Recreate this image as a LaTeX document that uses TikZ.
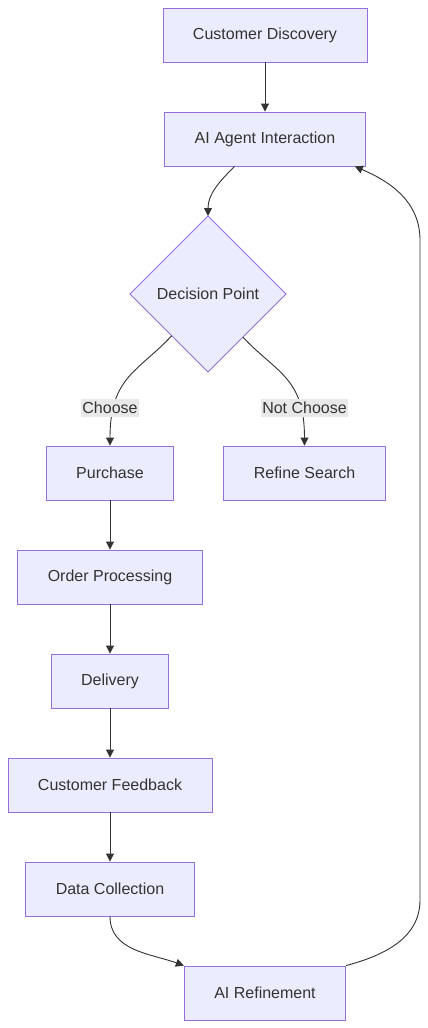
\documentclass[tikz,border=0pt]{standalone}
\usepackage{fontspec}
\setmainfont{Liberation Sans}
\usetikzlibrary{shapes.geometric,arrows.meta}
\definecolor{boxfill}{HTML}{ECECFF}
\definecolor{boxline}{HTML}{9370DB}
\definecolor{ink}{HTML}{333333}
\definecolor{labelgray}{HTML}{E8E8E8}
\tikzset{
  procbox/.style={draw=boxline, fill=boxfill, text=ink, line width=0.9pt,
    minimum height=54pt, inner xsep=30pt, font=\fontsize{16}{19}\selectfont},
  decisionbox/.style={diamond, draw=boxline, fill=boxfill, text=ink, line width=0.9pt,
    minimum width=156pt, minimum height=156pt, aspect=1, inner sep=0pt, outer sep=0pt,
    font=\fontsize{16}{19}\selectfont},
  edgelabel/.style={fill=labelgray, text=ink, inner xsep=1pt, inner ysep=3pt,
    font=\fontsize{16}{19}\selectfont},
  flow/.style={draw=ink, line width=0.9pt, -{Triangle[length=8pt,width=8pt]}}
}

\begin{document}
\begin{tikzpicture}[x=1pt,y=1pt]
  \useasboundingbox (0,0) rectangle (428,-1028);

  \node[procbox] (discovery) at (265,-35) {Customer Discovery};
  \node[procbox] (agent) at (265,-139) {AI Agent Interaction};
  \node[decisionbox] (decision) at (208,-294) {Decision Point};
  \node[procbox] (purchase) at (110,-473) {Purchase};
  \node[procbox] (refine) at (304.5,-473) {Refine Search};
  \node[procbox] (order) at (110,-577) {Order Processing};
  \node[procbox] (delivery) at (110,-681) {Delivery};
  \node[procbox] (feedback) at (110,-785) {Customer Feedback};
  \node[procbox] (collect) at (110,-889) {Data Collection};
  \node[procbox] (refinement) at (265,-993) {AI Refinement};

  \coordinate (loopbottom) at (420,-900);
  \coordinate (looptop) at (420,-240);

  \draw[flow] (discovery) -- (agent);
  \draw[flow] (agent.222) to[out=225,in=90] (decision.north);
  \draw[flow] (decision.229) to[out=-133,in=90,in looseness=1.4] (purchase.north);
  \draw[flow] (decision.-51) to[out=-47,in=90,in looseness=1.4] (refine.north);
  \draw[flow] (purchase) -- (order);
  \draw[flow] (order) -- (delivery);
  \draw[flow] (delivery) -- (feedback);
  \draw[flow] (feedback) -- (collect);
  \draw[flow] (collect.south) to[out=-90,in=160] (refinement.north west);
  \draw[flow] (refinement.north east) to[out=15,in=-90] (loopbottom) -- (looptop)
    to[out=90,in=-23] (agent.-17.6);

  \node[edgelabel] (choose) at (110,-408) {Choose};
  \node[edgelabel] (notchoose) at (304.5,-408) {Not Choose};
\end{tikzpicture}
\end{document}
